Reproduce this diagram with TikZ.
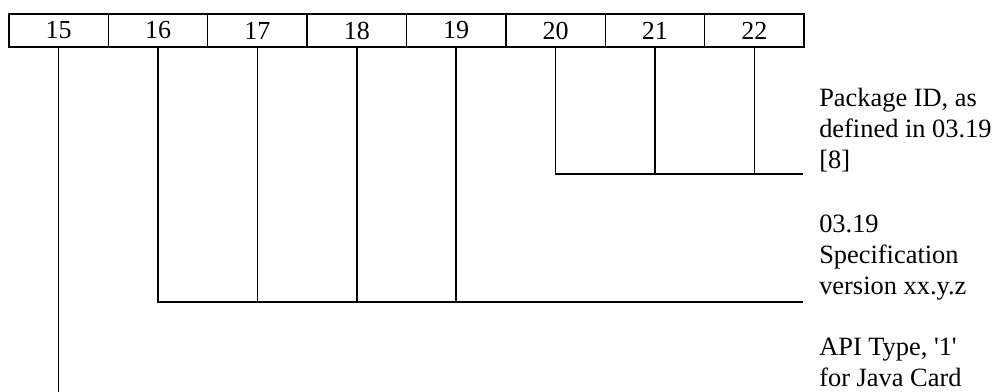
\documentclass[tikz,border=0pt]{standalone}
\usepackage{fontspec}
\setmainfont{Liberation Serif}[Ligatures=TeXOff]
\usetikzlibrary{positioning}

\begin{document}
\begin{tikzpicture}[
  x=0.75pt, y=-0.75pt,
  cell/.style={draw, line width=1.1pt, minimum width=74.53pt, minimum height=24.75pt,
    inner sep=0pt, outer sep=0pt, font=\fontsize{19.5}{23.25}\selectfont},
  note/.style={align=left, anchor=base west, inner sep=0pt,
    font=\fontsize{19.8}{23.25}\selectfont},
  wire/.style={line width=1.1pt},
  node distance=0pt,
]
\useasboundingbox (0,0) rectangle (995,392);

% Byte cells 15..22
\node[cell] (c15) at (58.7,30.5) {15};
\foreach \i [count=\j from 15] in {16,...,22}
  \node[cell, right=0pt of c\j] (c\i) {\i};

% Bracket end points
\coordinate (pid) at (803,174);
\coordinate (ver) at (803,302);
\coordinate (api) at (803,394);

% Package ID
\draw[wire] (c20.south) |- (pid);
\draw[wire] (c21.south) -- (c21.south |- pid);
\draw[wire] (c22.south) -- (c22.south |- pid);

% Specification version
\draw[wire] (c16.south) |- (ver);
\draw[wire] (c17.south) -- (c17.south |- ver);
\draw[wire] (c18.south) -- (c18.south |- ver);
\draw[wire] (c19.south) -- (c19.south |- ver);

% API type
\draw[wire] (c15.south) -- (c15.south |- api);

% Labels (anchored at the last line's baseline)
\node[note] (pidtext) at (819,168) {Package ID, as\\defined in 03.19\\{[8]}};
\node[note] (vertext) at (819,294) {03.19\\Specification\\version xx.y.z};
\node[note] (apitext) at (819,386) {API Type, '1'\\for Java Card};

\end{tikzpicture}
\end{document}
